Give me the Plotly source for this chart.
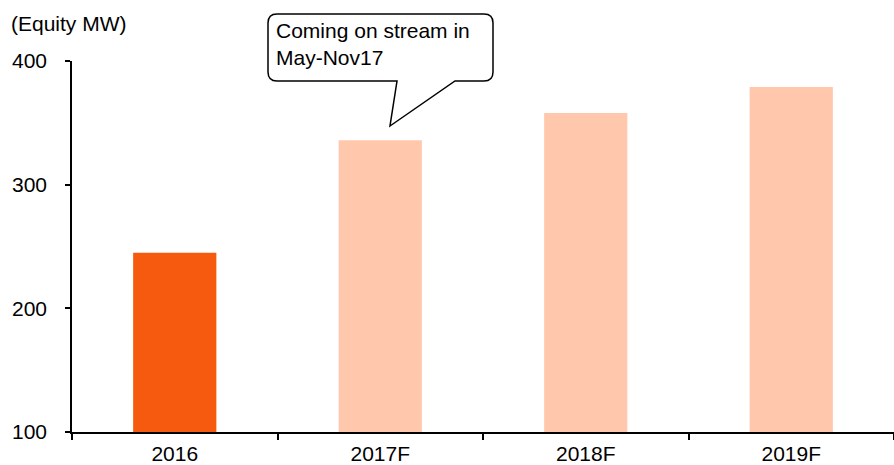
import plotly.graph_objects as go

categories = ["2016", "2017F", "2018F", "2019F"]
values = [245, 336, 358, 379]
bar_colors = ["#F55A0F", "#FFC8AD", "#FFC8AD", "#FFC8AD"]
y_ticks = [100, 200, 300, 400]
callout_text = "Coming on stream in<br>May-Nov17"
y_title = "(Equity MW)"

W, H = 894, 465
L, R, T, B = 72, 0, 61, 33
PW, PH = W - L - R, H - T - B


def px(x):
    return (x - L) / PW


def py(y):
    return (H - B - y) / PH


fig = go.Figure()
fig.add_trace(go.Bar(x=categories, y=values, marker_color=bar_colors,
                     marker_line_width=0, width=0.405))

# callout bubble (pixel geometry -> paper coordinates)
x0, x1, y0, y1, r = 268, 493, 14, 81, 9
t1, t2, tipx, tipy = 455, 397, 390, 126
def M(x, y): return f"M{px(x)},{py(y)}"
def Lp(x, y): return f"L{px(x)},{py(y)}"
def Q(cx, cy, x, y): return f"Q{px(cx)},{py(cy)} {px(x)},{py(y)}"
path = " ".join([
    M(x0 + r, y0), Lp(x1 - r, y0), Q(x1, y0, x1, y0 + r),
    Lp(x1, y1 - r), Q(x1, y1, x1 - r, y1),
    Lp(t1, y1), Lp(tipx, tipy), Lp(t2, y1),
    Lp(x0 + r, y1), Q(x0, y1, x0, y1 - r),
    Lp(x0, y0 + r), Q(x0, y0, x0 + r, y0), "Z"])
fig.add_shape(type="path", path=path, xref="paper", yref="paper",
              line=dict(color="black", width=1.5), fillcolor="white", layer="above")

fig.add_annotation(text=callout_text, xref="paper", yref="paper",
                   x=px(274), y=py(17), xanchor="left", yanchor="top",
                   align="left", showarrow=False,
                   font=dict(size=21, color="black"))
fig.add_annotation(text=y_title, xref="paper", yref="paper",
                   x=px(9), y=py(24), xanchor="left", yanchor="middle",
                   showarrow=False, font=dict(size=21, color="black"))

fig.update_layout(
    width=W, height=H,
    margin=dict(l=L, r=R, t=T, b=B, autoexpand=False),
    paper_bgcolor="white", plot_bgcolor="white",
    font=dict(family="Liberation Sans, Arial, sans-serif", size=21, color="black"),
    showlegend=False,
    bargap=0.6,
)
fig.update_xaxes(type="category", showline=True, linecolor="black", linewidth=1.5,
                 ticks="outside", tickson="boundaries", ticklen=6, tickwidth=1.5,
                 tickcolor="black", showgrid=False, range=[-0.5, 3.5],
                 ticklabelstandoff=2, automargin=False)
fig.update_yaxes(range=[100, 400], tickvals=y_ticks, showline=True, linecolor="black",
                 linewidth=1.5, ticks="outside", ticklen=5, tickwidth=1.5,
                 tickcolor="black", showgrid=False, zeroline=False,
                 ticklabelstandoff=14, automargin=False)

fig.write_html("out.html")
